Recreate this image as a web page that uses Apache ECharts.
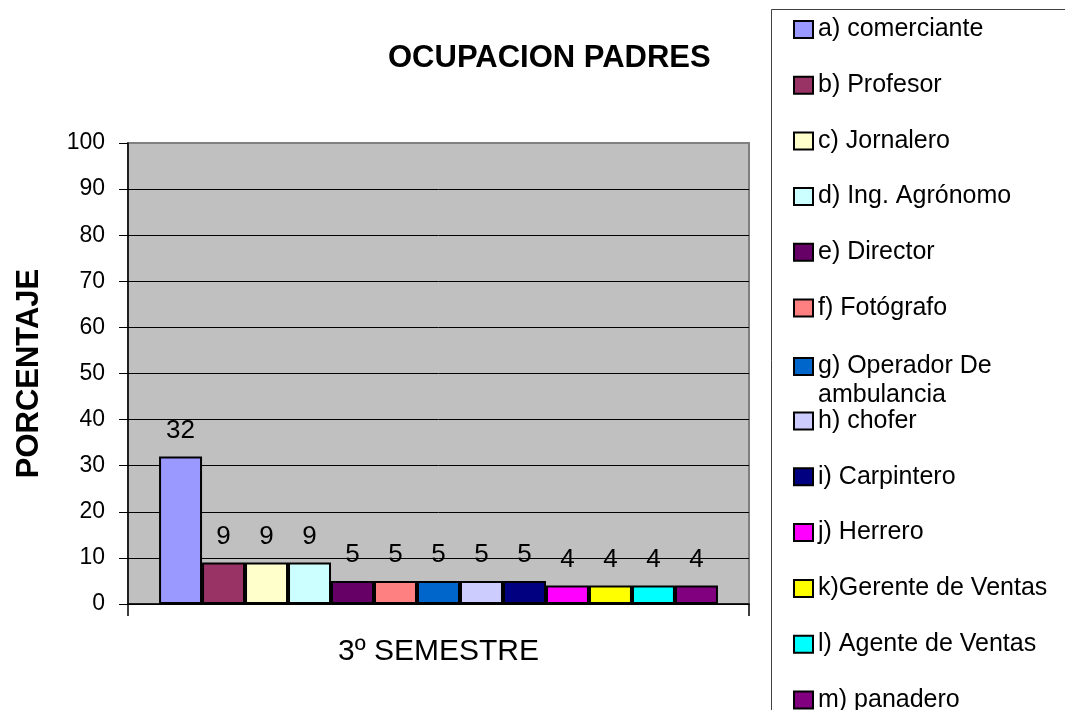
<!DOCTYPE html>
<html>
<head>
<meta charset="utf-8">
<style>
  html, body { margin: 0; padding: 0; background: #fff; }
  #chart { width: 1065px; height: 710px; }
</style>
<script src="https://cdn.jsdelivr.net/npm/echarts@6/dist/echarts.min.js"></script>
</head>
<body>
<div id="chart"></div>
<script>
// Occupation of parents, 3rd semester (percent)
const categories = ['3º SEMESTRE'];
const occupations = [
  'a) comerciante', 'b) Profesor', 'c) Jornalero', 'd) Ing. Agrónomo',
  'e) Director', 'f) Fotógrafo', 'g) Operador De\nambulancia', 'h) chofer',
  'i) Carpintero', 'j) Herrero', 'k)Gerente de Ventas', 'l) Agente de Ventas',
  'm) panadero'
];
const percentages = [32, 9, 9, 9, 5, 5, 5, 5, 5, 4, 4, 4, 4];
const barColors = [
  '#9999ff', '#993366', '#ffffcc', '#ccffff', '#660066', '#ff8080', '#0066cc',
  '#ccccff', '#000080', '#ff00ff', '#ffff00', '#00ffff', '#800080'
];
const yTicks = { min: 0, max: 100, interval: 10 };

const FONT = '"Liberation Sans", Arial, sans-serif';
const LEGEND_SIZE = 25;
const WRAP_LINE = 29;
const chart = echarts.init(document.getElementById('chart'), null, { renderer: 'canvas' });

const series = occupations.map((name, i) => ({
  name: name,
  type: 'bar',
  data: [percentages[i]],
  barGap: '0%',
  barCategoryGap: '10%',
  itemStyle: { color: barColors[i], borderColor: '#000', borderWidth: 2 },
  label: {
    show: true, position: 'top', distance: 13,
    color: '#000', fontFamily: FONT, fontSize: 26
  },
  emphasis: { disabled: true }
}));

const legendBase = {
  orient: 'vertical',
  left: 793,
  padding: 0,
  height: 640,
  itemWidth: 19,
  itemHeight: 17,
  icon: 'rect',
  selectedMode: false,
  itemStyle: { borderColor: '#000', borderWidth: 2 },
  // wrapped entries keep the marker level with their first line
  formatter: name => name.indexOf('\n') >= 0
    ? name.split('\n').map(s => '{w|' + s + '}').join('\n')
    : name,
  textStyle: {
    color: '#000', fontFamily: FONT, fontSize: LEGEND_SIZE,
    rich: { w: { color: '#000', fontFamily: FONT, fontSize: LEGEND_SIZE, lineHeight: WRAP_LINE } }
  }
};

const upper = occupations.slice(0, 6);
const wrapped = [{ name: occupations[6], textStyle: { padding: [0, 0, -WRAP_LINE, 0] } }];
const lower = occupations.slice(7);

chart.setOption({
  animation: false,
  backgroundColor: '#fff',
  title: {
    text: 'OCUPACION PADRES',
    left: 383, top: 38,
    textStyle: { color: '#000', fontFamily: FONT, fontSize: 31, fontWeight: 'bold' }
  },
  graphic: [{
    type: 'rect', silent: true, z: -1,
    shape: { x: 771.5, y: 9.5, width: 400, height: 800 },
    style: { fill: '#fff', stroke: '#404040', lineWidth: 1 }
  }],
  legend: [
    Object.assign({}, legendBase, { top: 17, itemGap: 30.7, data: upper }),
    Object.assign({}, legendBase, { top: 354, itemGap: 0, data: wrapped }),
    Object.assign({}, legendBase, { top: 408.5, itemGap: 30.8, data: lower })
  ],
  grid: {
    left: 128, top: 143, right: 316, bottom: 106,
    show: true, backgroundColor: '#c0c0c0', borderColor: '#808080', borderWidth: 2
  },
  xAxis: {
    type: 'category',
    data: categories,
    axisLine: { lineStyle: { color: '#000', width: 1.5 } },
    axisTick: { show: true, length: 12, lineStyle: { color: '#000', width: 1.5 } },
    axisLabel: { color: '#000', fontFamily: FONT, fontSize: 30, margin: 33 }
  },
  yAxis: {
    type: 'value',
    min: yTicks.min, max: yTicks.max, interval: yTicks.interval,
    name: 'PORCENTAJE',
    nameLocation: 'middle',
    nameGap: 83,
    nameTextStyle: { color: '#000', fontFamily: FONT, fontSize: 31, fontWeight: 'bold' },
    axisLine: { show: true, lineStyle: { color: '#000', width: 1.5 } },
    axisTick: { show: true, length: 9, lineStyle: { color: '#000', width: 1 } },
    axisLabel: { color: '#000', fontFamily: FONT, fontSize: 23, margin: 23 },
    splitLine: { show: true, showMaxLine: false, lineStyle: { color: '#000', width: 1 } }
  },
  series: series
});
</script>
</body>
</html>
